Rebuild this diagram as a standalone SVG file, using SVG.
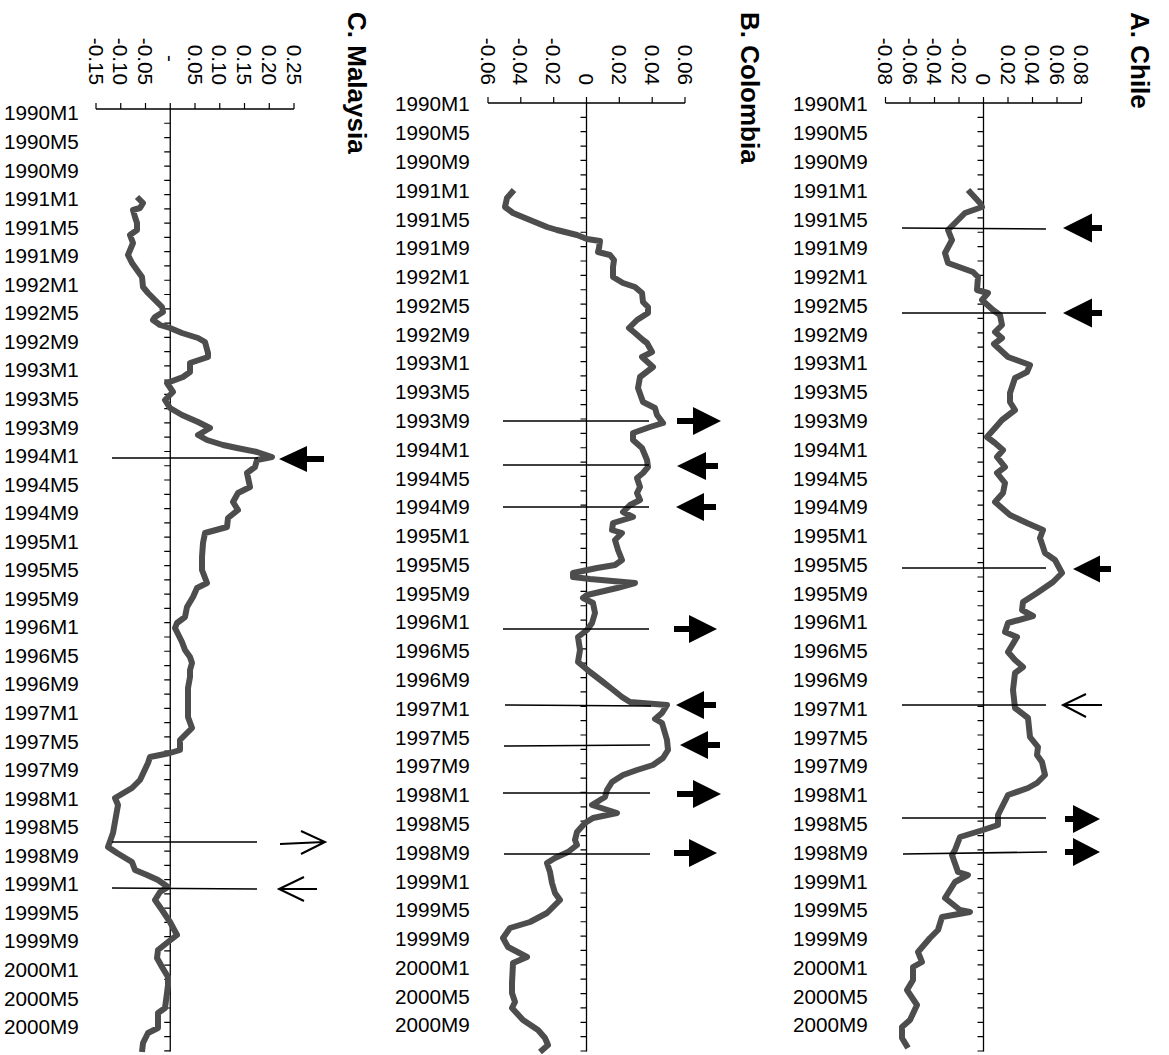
<svg xmlns="http://www.w3.org/2000/svg" width="1169" height="1055" viewBox="0 0 1169 1055">
<style>
.bg{fill:#fff}
.axis{stroke:#000;stroke-width:1.3;fill:none}
.ticks{stroke:#000;stroke-width:1.2;fill:none}
.vt{stroke:#000;stroke-width:6;fill:none}
.series{stroke:#4d4d4d;stroke-width:6;fill:none;stroke-linejoin:round;stroke-linecap:butt}
.mk{stroke:#000;stroke-width:1.6;fill:none}
.arr{fill:#000;stroke:none}
.open{stroke:#000;stroke-width:2;fill:none}
text{font-family:"Liberation Sans",Arial,sans-serif;fill:#000}
.d{font-size:20.7px}
.v{font-size:20.7px;text-anchor:end}
.t{font-size:26px;font-weight:bold}
</style>
<rect class="bg" x="0" y="0" width="1169" height="1055"/>

<g id="panel-chile">
<text class="t" transform="translate(1131,12) rotate(90)">A. Chile</text>
<g id="chile-value-axis">
<path class="axis" d="M885.5 103H1081.5"/>
<path class="ticks" d="M885.5 97V103M910 97V103M934.5 97V103M959 97V103M983.5 97V103M1008 97V103M1032.5 97V103M1057 97V103M1081.5 97V103"/>
<text class="v" transform="translate(878.1,85) rotate(90)">-0.08</text>
<text class="v" transform="translate(902.6,85) rotate(90)">-0.06</text>
<text class="v" transform="translate(927.1,85) rotate(90)">-0.04</text>
<text class="v" transform="translate(951.6,85) rotate(90)">-0.02</text>
<text class="v" transform="translate(976.1,85) rotate(90)">0</text>
<text class="v" transform="translate(1000.6,85) rotate(90)">0.02</text>
<text class="v" transform="translate(1025.1,85) rotate(90)">0.04</text>
<text class="v" transform="translate(1049.6,85) rotate(90)">0.06</text>
<text class="v" transform="translate(1074.1,85) rotate(90)">0.08</text>
</g>
<g id="chile-category-axis">
<path class="axis" d="M983.5 103V1051.5"/>
<line class="vt" x1="980.5" y1="116.76" x2="980.5" y2="1052.2" stroke-dasharray="1.2 13.164"/>
<text class="d" x="793" y="111.4">1990M1</text>
<text class="d" x="793" y="140.2">1990M5</text>
<text class="d" x="793" y="169.0">1990M9</text>
<text class="d" x="793" y="197.7">1991M1</text>
<text class="d" x="793" y="226.5">1991M5</text>
<text class="d" x="793" y="255.3">1991M9</text>
<text class="d" x="793" y="284.1">1992M1</text>
<text class="d" x="793" y="312.9">1992M5</text>
<text class="d" x="793" y="341.6">1992M9</text>
<text class="d" x="793" y="370.4">1993M1</text>
<text class="d" x="793" y="399.2">1993M5</text>
<text class="d" x="793" y="428.0">1993M9</text>
<text class="d" x="793" y="456.8">1994M1</text>
<text class="d" x="793" y="485.5">1994M5</text>
<text class="d" x="793" y="514.3">1994M9</text>
<text class="d" x="793" y="543.1">1995M1</text>
<text class="d" x="793" y="571.9">1995M5</text>
<text class="d" x="793" y="600.7">1995M9</text>
<text class="d" x="793" y="629.4">1996M1</text>
<text class="d" x="793" y="658.2">1996M5</text>
<text class="d" x="793" y="687.0">1996M9</text>
<text class="d" x="793" y="715.8">1997M1</text>
<text class="d" x="793" y="744.6">1997M5</text>
<text class="d" x="793" y="773.3">1997M9</text>
<text class="d" x="793" y="802.1">1998M1</text>
<text class="d" x="793" y="830.9">1998M5</text>
<text class="d" x="793" y="859.7">1998M9</text>
<text class="d" x="793" y="888.5">1999M1</text>
<text class="d" x="793" y="917.2">1999M5</text>
<text class="d" x="793" y="946.0">1999M9</text>
<text class="d" x="793" y="974.8">2000M1</text>
<text class="d" x="793" y="1003.6">2000M5</text>
<text class="d" x="793" y="1032.4">2000M9</text>
</g>
<polyline id="chile-series" class="series" points="968,190 980,203 982,207 965,213 953,225 948,230 952,240 945,253 948,263 973,272 978,277 977,290 988,293 982,300 993,310 1000,315 1002,325 995,332 1002,338 994,344 1008,357 1030,365 1027,372 1015,378 1010,393 1010,402 1015,410 1002,420 995,428 987,437 995,443 1003,450 997,457 1005,467 997,473 1005,483 1003,493 995,502 1010,515 1027,523 1043,530 1040,538 1045,553 1055,560 1062,573 1053,582 1037,593 1023,602 1022,610 1033,616 1008,623 1005,632 1017,637 1008,652 1015,660 1023,667 1015,673 1013,690 1015,708 1028,718 1030,737 1038,747 1037,755 1042,762 1045,775 1037,783 1028,788 1008,795 1003,805 998,815 998,825 983,830 960,837 955,850 952,855 958,872 968,875 955,882 945,898 960,910 970,912 942,917 938,930 930,938 918,952 922,962 913,967 913,980 907,990 917,1005 910,1020 902,1027 902,1038 908,1048"/>
</g>

<g id="panel-colombia">
<text class="t" transform="translate(741,12) rotate(90)">B. Colombia</text>
<g id="colombia-value-axis">
<path class="axis" d="M488 103H685"/>
<path class="ticks" d="M488 97V103M520.8 97V103M553.7 97V103M586.5 97V103M619.3 97V103M652.2 97V103M685 97V103"/>
<text class="v" transform="translate(480.6,85) rotate(90)">-0.06</text>
<text class="v" transform="translate(513.4,85) rotate(90)">-0.04</text>
<text class="v" transform="translate(546.3,85) rotate(90)">-0.02</text>
<text class="v" transform="translate(579.1,85) rotate(90)">0</text>
<text class="v" transform="translate(611.9,85) rotate(90)">0.02</text>
<text class="v" transform="translate(644.8,85) rotate(90)">0.04</text>
<text class="v" transform="translate(677.6,85) rotate(90)">0.06</text>
</g>
<g id="colombia-category-axis">
<path class="axis" d="M586.5 103V1051.5"/>
<line class="vt" x1="583.5" y1="116.76" x2="583.5" y2="1052.2" stroke-dasharray="1.2 13.164"/>
<text class="d" x="395" y="111.4">1990M1</text>
<text class="d" x="395" y="140.2">1990M5</text>
<text class="d" x="395" y="169.0">1990M9</text>
<text class="d" x="395" y="197.7">1991M1</text>
<text class="d" x="395" y="226.5">1991M5</text>
<text class="d" x="395" y="255.3">1991M9</text>
<text class="d" x="395" y="284.1">1992M1</text>
<text class="d" x="395" y="312.9">1992M5</text>
<text class="d" x="395" y="341.6">1992M9</text>
<text class="d" x="395" y="370.4">1993M1</text>
<text class="d" x="395" y="399.2">1993M5</text>
<text class="d" x="395" y="428.0">1993M9</text>
<text class="d" x="395" y="456.8">1994M1</text>
<text class="d" x="395" y="485.5">1994M5</text>
<text class="d" x="395" y="514.3">1994M9</text>
<text class="d" x="395" y="543.1">1995M1</text>
<text class="d" x="395" y="571.9">1995M5</text>
<text class="d" x="395" y="600.7">1995M9</text>
<text class="d" x="395" y="629.4">1996M1</text>
<text class="d" x="395" y="658.2">1996M5</text>
<text class="d" x="395" y="687.0">1996M9</text>
<text class="d" x="395" y="715.8">1997M1</text>
<text class="d" x="395" y="744.6">1997M5</text>
<text class="d" x="395" y="773.3">1997M9</text>
<text class="d" x="395" y="802.1">1998M1</text>
<text class="d" x="395" y="830.9">1998M5</text>
<text class="d" x="395" y="859.7">1998M9</text>
<text class="d" x="395" y="888.5">1999M1</text>
<text class="d" x="395" y="917.2">1999M5</text>
<text class="d" x="395" y="946.0">1999M9</text>
<text class="d" x="395" y="974.8">2000M1</text>
<text class="d" x="395" y="1003.6">2000M5</text>
<text class="d" x="395" y="1032.4">2000M9</text>
</g>
<polyline id="colombia-series" class="series" points="514,190 507,198 505,207 513,213 530,220 547,227 557,230 577,235 587,239 600,241 599,248 598,252 610,255 614,260 613,267 613,277 623,283 635,287 642,293 643,302 648,307 648,313 637,320 629,328 635,333 643,340 647,343 652,352 642,357 653,367 640,377 638,388 643,402 655,408 657,415 663,423 650,427 633,433 633,440 642,448 647,460 648,467 643,473 637,478 640,487 637,493 640,500 630,505 623,512 633,517 623,520 613,523 612,530 622,533 615,540 618,550 622,560 615,565 597,568 573,573 573,577 590,579 635,583 617,588 587,595 583,598 593,603 595,613 592,623 587,630 578,637 580,650 578,662 590,672 603,682 612,689 622,697 630,702 667,705 662,713 655,719 662,723 667,740 668,750 663,758 653,765 637,770 623,775 612,782 607,790 605,797 592,805 617,813 593,818 585,823 577,832 575,840 577,845 568,852 555,858 547,863 550,872 552,883 555,893 560,900 547,913 530,922 510,928 503,938 508,947 527,957 513,963 512,983 512,993 515,1002 512,1008 523,1020 538,1030 545,1038 548,1045 540,1052"/>
</g>

<g id="panel-malaysia">
<text class="t" transform="translate(348,12) rotate(90)">C. Malaysia</text>
<g id="malaysia-value-axis">
<path class="axis" d="M96 109H294"/>
<path class="ticks" d="M96 103V109M120.75 103V109M145.5 103V109M170.25 103V109M195 103V109M219.75 103V109M244.5 103V109M269.25 103V109M294 103V109"/>
<text class="v" transform="translate(88.6,85) rotate(90)">-0.15</text>
<text class="v" transform="translate(113.4,85) rotate(90)">-0.10</text>
<text class="v" transform="translate(138.1,85) rotate(90)">-0.05</text>
<text class="d" transform="translate(162.9,55) rotate(90)">-</text>
<text class="v" transform="translate(187.6,85) rotate(90)">0.05</text>
<text class="v" transform="translate(212.4,85) rotate(90)">0.10</text>
<text class="v" transform="translate(237.1,85) rotate(90)">0.15</text>
<text class="v" transform="translate(261.9,85) rotate(90)">0.20</text>
<text class="v" transform="translate(286.6,85) rotate(90)">0.25</text>
</g>
<g id="malaysia-category-axis">
<path class="axis" d="M170.25 109V1051.5"/>
<line class="vt" x1="167.25" y1="122.67" x2="167.25" y2="1052.2" stroke-dasharray="1.2 13.07"/>
<text class="d" x="4" y="120.4">1990M1</text>
<text class="d" x="4" y="149.0">1990M5</text>
<text class="d" x="4" y="177.5">1990M9</text>
<text class="d" x="4" y="206.1">1991M1</text>
<text class="d" x="4" y="234.6">1991M5</text>
<text class="d" x="4" y="263.2">1991M9</text>
<text class="d" x="4" y="291.7">1992M1</text>
<text class="d" x="4" y="320.3">1992M5</text>
<text class="d" x="4" y="348.8">1992M9</text>
<text class="d" x="4" y="377.4">1993M1</text>
<text class="d" x="4" y="405.9">1993M5</text>
<text class="d" x="4" y="434.5">1993M9</text>
<text class="d" x="4" y="463.0">1994M1</text>
<text class="d" x="4" y="491.6">1994M5</text>
<text class="d" x="4" y="520.1">1994M9</text>
<text class="d" x="4" y="548.7">1995M1</text>
<text class="d" x="4" y="577.2">1995M5</text>
<text class="d" x="4" y="605.8">1995M9</text>
<text class="d" x="4" y="634.3">1996M1</text>
<text class="d" x="4" y="662.9">1996M5</text>
<text class="d" x="4" y="691.4">1996M9</text>
<text class="d" x="4" y="720.0">1997M1</text>
<text class="d" x="4" y="748.5">1997M5</text>
<text class="d" x="4" y="777.1">1997M9</text>
<text class="d" x="4" y="805.6">1998M1</text>
<text class="d" x="4" y="834.2">1998M5</text>
<text class="d" x="4" y="862.7">1998M9</text>
<text class="d" x="4" y="891.3">1999M1</text>
<text class="d" x="4" y="919.8">1999M5</text>
<text class="d" x="4" y="948.4">1999M9</text>
<text class="d" x="4" y="976.9">2000M1</text>
<text class="d" x="4" y="1005.5">2000M5</text>
<text class="d" x="4" y="1034.0">2000M9</text>
</g>
<polyline id="malaysia-series" class="series" points="137,197 143,203 140,208 133,210 135,217 137,223 137,230 130,235 133,243 128,255 132,263 137,270 142,277 143,287 148,293 157,302 162,307 163,312 155,317 153,320 160,325 170,328 182,333 198,338 205,342 208,353 208,357 190,363 190,372 183,377 167,383 173,392 165,400 170,408 182,415 198,422 210,428 198,435 207,440 223,445 237,448 257,452 272,457 257,460 255,467 247,473 250,487 238,493 233,502 238,510 228,518 227,527 205,533 203,543 202,557 202,570 207,583 197,588 193,597 187,607 185,617 177,623 175,628 182,642 185,650 190,657 192,663 190,670 190,677 188,688 188,717 192,728 180,740 180,750 170,753 150,757 148,763 140,780 132,788 115,798 118,805 113,833 108,847 117,853 132,862 135,870 147,875 158,880 168,887 160,892 155,900 162,910 170,922 177,935 168,942 158,950 157,958 162,967 168,977 168,985 167,993 165,1008 158,1013 158,1028 148,1033 143,1043 142,1052"/>
</g>

<g id="connectors">
<g id="chile-markers">
<path class="mk" d="M902 228L1046 229M902 313H1046M902 568H1046M902 705H1046M902 818H1046M903 854L1047 852"/>
<polygon class="arr" points="1063,228 1092,213.5 1092,225 1102,225 1102,231 1092,231 1092,242.5"/>
<polygon class="arr" points="1063,313 1092,298.5 1092,310 1102,310 1102,316 1092,316 1092,327.5"/>
<polygon class="arr" points="1073,569 1100,555.5 1100,566 1111,566 1111,572 1100,572 1100,582.5"/>
<path class="open" d="M1102 705H1063M1086 694L1063 705L1086 717"/>
<polygon class="arr" points="1100,819 1073,805 1073,822 1065,822 1065,816 1073,816 1073,833"/>
<polygon class="arr" points="1100,852 1073,838 1073,855 1065,855 1065,849 1073,849 1073,866"/>
</g>
<g id="colombia-markers">
<path class="mk" d="M503 421H649M503 465H649M503 507H649M503 629H649M505 705L651 706M504 746L650 745M503 793H650M504 854H650"/>
<polygon class="arr" points="721,421 693,407 693,418 677,418 677,424 693,424 693,435"/>
<polygon class="arr" points="677,466 706,452 706,463 718,463 718,469 706,469 706,480"/>
<polygon class="arr" points="676,507 704,493 704,504 716,504 716,510 704,510 704,521"/>
<polygon class="arr" points="717,629 689,615 689,626 674,626 674,632 689,632 689,643"/>
<polygon class="arr" points="676,705 704,691 704,702 716,702 716,708 704,708 704,719"/>
<polygon class="arr" points="680,745 708,731 708,742 720,742 720,748 708,748 708,759"/>
<polygon class="arr" points="721,794 693,780 693,791 677,791 677,797 693,797 693,808"/>
<polygon class="arr" points="717,853 689,839 689,850 674,850 674,856 689,856 689,867"/>
</g>
<g id="malaysia-markers">
<path class="mk" d="M112 458H258M112 842H257M112 888L257 889"/>
<polygon class="arr" points="279,459 307,446 307,456 324,456 324,462 307,462 307,472"/>
<path class="open" d="M280 844L324 842M301 831L325 842L301 854"/>
<path class="open" d="M317 889H280M304 877L279 889L304 901"/>
</g>
</g>
</svg>
